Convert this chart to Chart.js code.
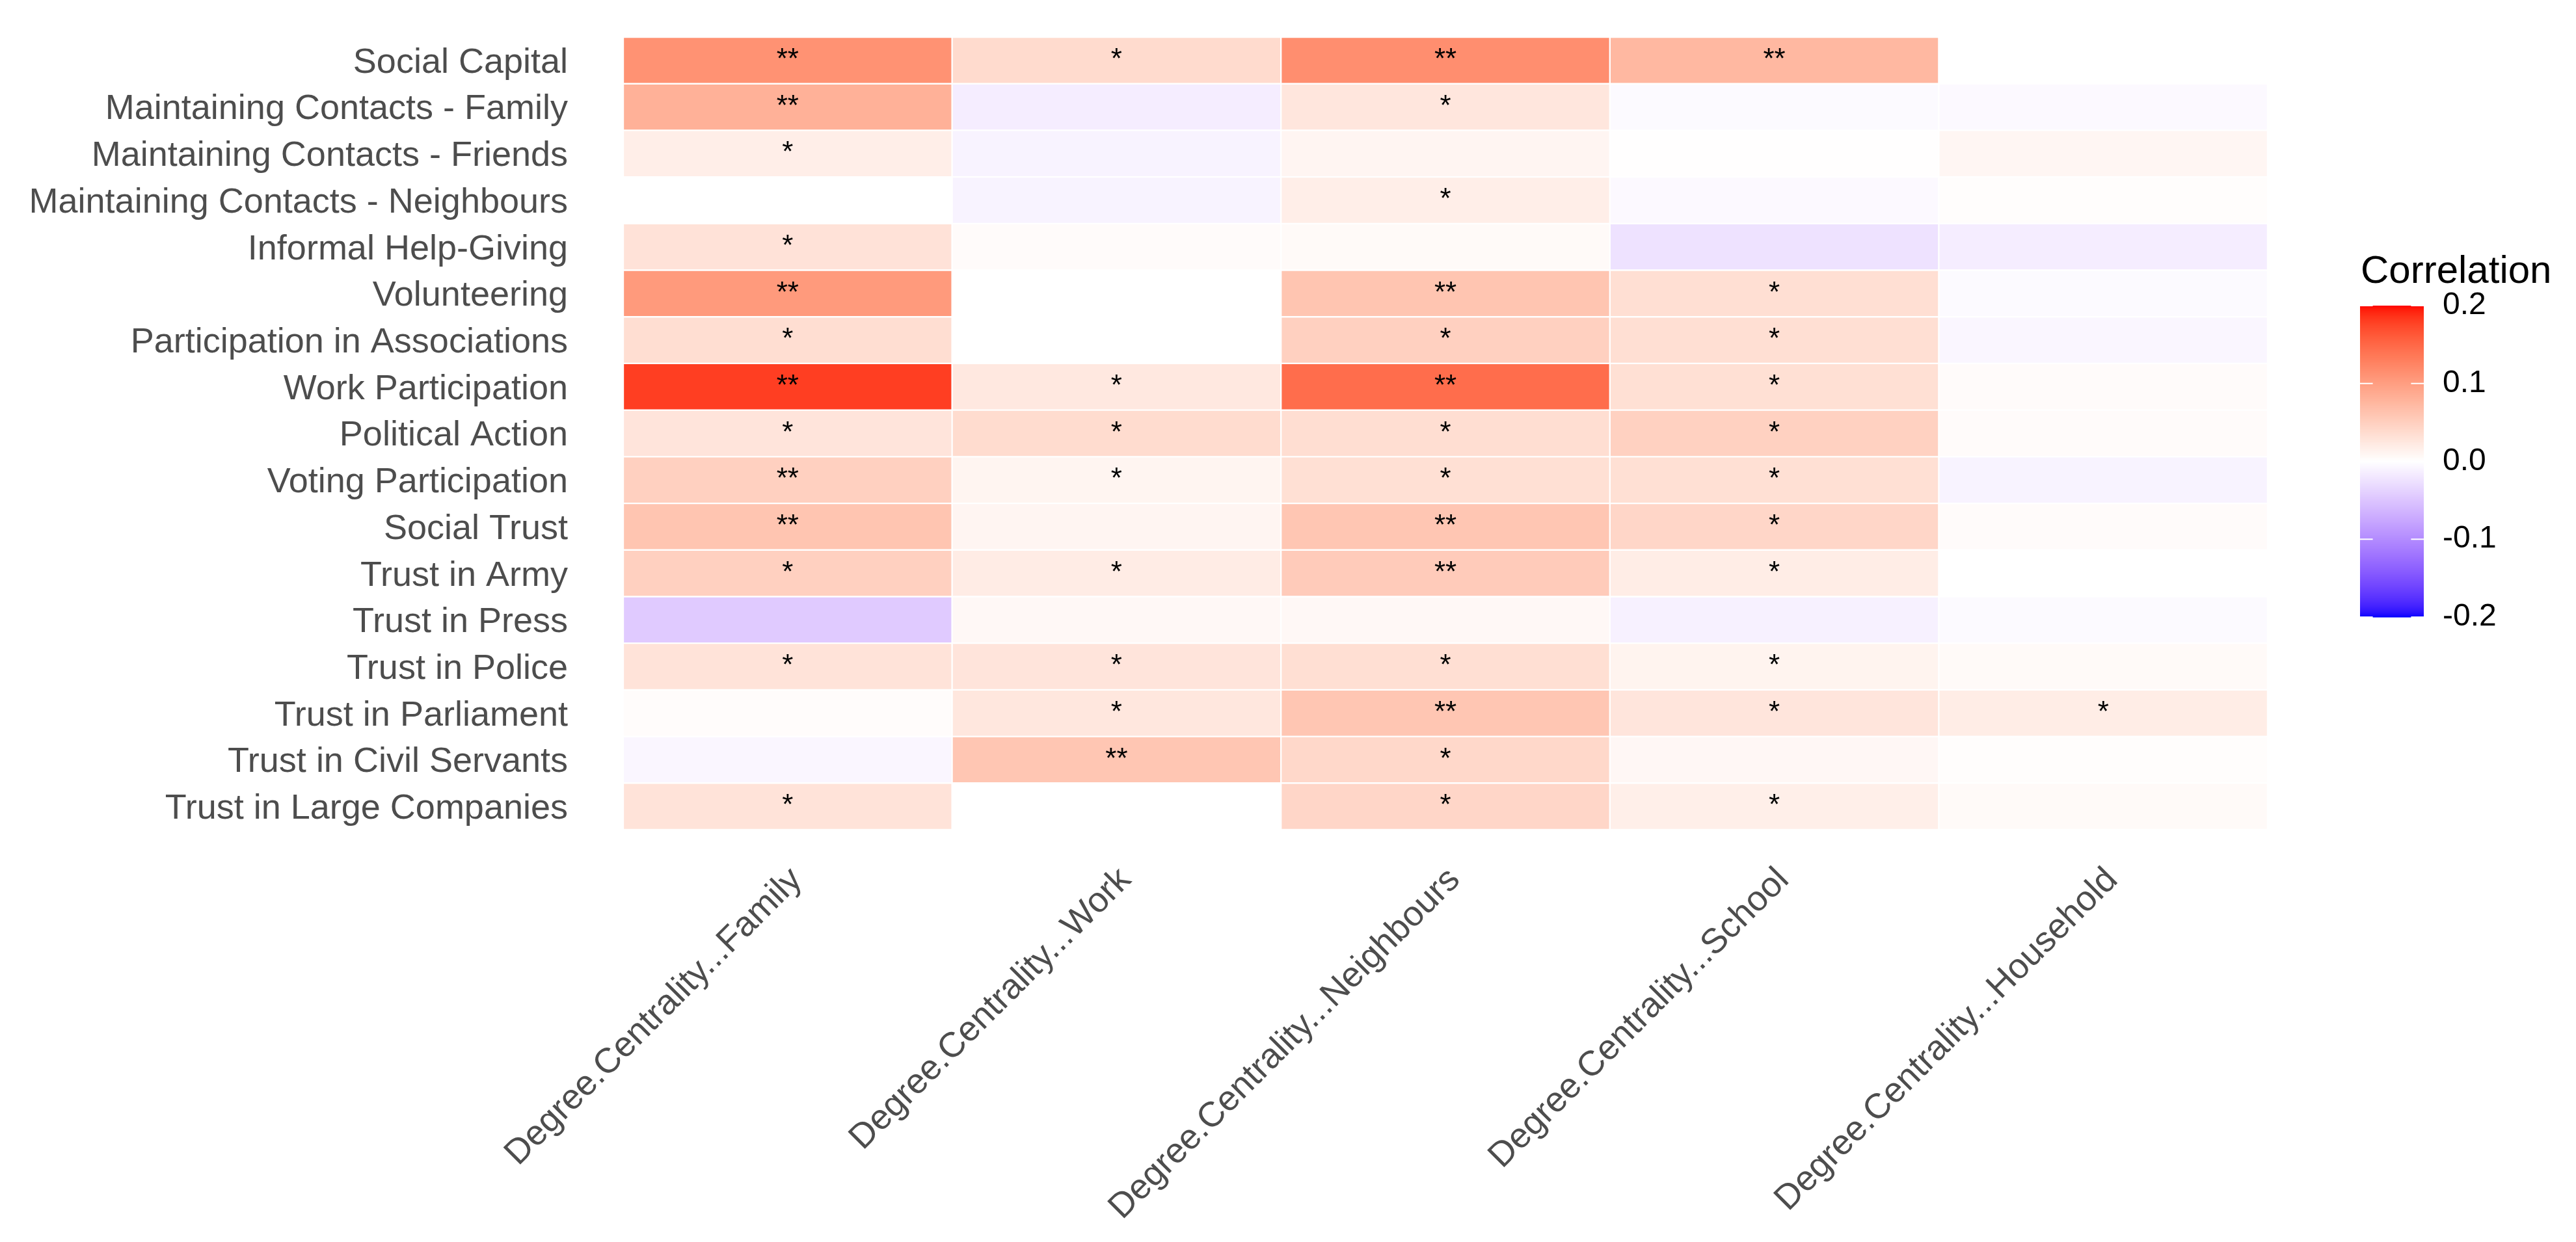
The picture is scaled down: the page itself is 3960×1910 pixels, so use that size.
<!DOCTYPE html>
<html lang="en">
<head>
  <meta charset="UTF-8">
  <title>Degree centrality vs social capital – correlation heatmap</title>
  <script src="https://cdn.jsdelivr.net/npm/chart.js@4.4.1/dist/chart.umd.min.js"></script>
  <style>
    body { margin: 0; background: #fff; }
    #wrap { width: 3960px; height: 1910px; }
  </style>
</head>
<body>
  <div id="wrap"><canvas id="heat" width="3960" height="1910"></canvas></div>

  <script>
    const rowLabels = [
      "Social Capital", "Maintaining Contacts - Family", "Maintaining Contacts - Friends",
      "Maintaining Contacts - Neighbours", "Informal Help-Giving", "Volunteering",
      "Participation in Associations", "Work Participation", "Political Action",
      "Voting Participation", "Social Trust", "Trust in Army", "Trust in Press",
      "Trust in Police", "Trust in Parliament", "Trust in Civil Servants", "Trust in Large Companies"
    ];
    const colLabels = [
      "Degree.Centrality...Family", "Degree.Centrality...Work", "Degree.Centrality...Neighbours",
      "Degree.Centrality...School", "Degree.Centrality...Household"
    ];

    // correlations, one array per column, rows top to bottom
    const family     = [0.112, 0.081, 0.018, 0.000, 0.030, 0.104, 0.035, 0.180, 0.028, 0.049, 0.061, 0.049, -0.045, 0.029, 0.003, -0.008, 0.029];
    const work       = [0.038, -0.015, -0.010, -0.010, 0.004, 0.000, 0.000, 0.024, 0.037, 0.011, 0.010, 0.020, 0.007, 0.028, 0.025, 0.059, 0.000];
    const neighbours = [0.115, 0.026, 0.010, 0.018, 0.005, 0.061, 0.049, 0.145, 0.035, 0.033, 0.059, 0.054, 0.007, 0.034, 0.059, 0.041, 0.043];
    const school     = [0.074, -0.004, 0.001, -0.005, -0.025, 0.034, 0.034, 0.033, 0.048, 0.033, 0.043, 0.019, -0.012, 0.012, 0.027, 0.008, 0.017];
    const household  = [null, -0.005, 0.009, 0.002, -0.015, -0.004, -0.008, 0.004, 0.004, -0.010, 0.004, 0.000, -0.004, 0.005, 0.019, 0.002, 0.005];

    // significance marks
    const familyStars     = ["**", "**", "*", "", "*", "**", "*", "**", "*", "**", "**", "*", "", "*", "", "", "*"];
    const workStars       = ["*", "", "", "", "", "", "", "*", "*", "*", "", "*", "", "*", "*", "**", ""];
    const neighboursStars = ["**", "*", "", "*", "", "**", "*", "**", "*", "*", "**", "**", "", "*", "**", "*", "*"];
    const schoolStars     = ["**", "", "", "", "", "*", "*", "*", "*", "*", "*", "*", "", "*", "*", "", "*"];
    const householdStars  = ["", "", "", "", "", "", "", "", "", "", "", "", "", "", "*", "", ""];

    const legendTicks = [0.2, 0.1, 0.0, -0.1, -0.2];
    const limit = 0.2;

    const FONT = '"Liberation Sans", Arial, sans-serif';

    // blue - white - red gradient, interpolated in Lab like ggplot's gradient2
    function toLinear(c) { c /= 255; return c <= 0.04045 ? c / 12.92 : Math.pow((c + 0.055) / 1.055, 2.4); }
    function toSrgb(c) {
      c = c <= 0.0031308 ? 12.92 * c : 1.055 * Math.pow(c, 1 / 2.4) - 0.055;
      return Math.round(Math.min(1, Math.max(0, c)) * 255);
    }
    function rgbToLab(rgb) {
      const [r, g, b] = rgb.map(toLinear);
      const x = (0.4124564 * r + 0.3575761 * g + 0.1804375 * b) / 0.95047;
      const y = 0.2126729 * r + 0.7151522 * g + 0.0721750 * b;
      const z = (0.0193339 * r + 0.1191920 * g + 0.9503041 * b) / 1.08883;
      const f = t => t > 0.008856 ? Math.cbrt(t) : 7.787 * t + 16 / 116;
      return [116 * f(y) - 16, 500 * (f(x) - f(y)), 200 * (f(y) - f(z))];
    }
    function labToRgb(lab) {
      const fy = (lab[0] + 16) / 116, fx = fy + lab[1] / 500, fz = fy - lab[2] / 200;
      const inv = t => t * t * t > 0.008856 ? t * t * t : (t - 16 / 116) / 7.787;
      const x = inv(fx) * 0.95047, y = inv(fy), z = inv(fz) * 1.08883;
      const r = 3.2404542 * x - 1.5371385 * y - 0.4985314 * z;
      const g = -0.9692660 * x + 1.8760108 * y + 0.0415560 * z;
      const b = 0.0556434 * x - 0.2040259 * y + 1.0572252 * z;
      return `rgb(${toSrgb(r)},${toSrgb(g)},${toSrgb(b)})`;
    }
    const labLow = rgbToLab([0, 0, 255]);
    const labMid = rgbToLab([255, 255, 255]);
    const labHigh = rgbToLab([255, 0, 0]);
    function fillFor(v) {
      const t = Math.max(-1, Math.min(1, v / limit));
      const end = t >= 0 ? labHigh : labLow;
      const k = Math.abs(t);
      return labToRgb(labMid.map((m, i) => m + (end[i] - m) * k));
    }

    const columns = [family, work, neighbours, school, household];
    const marks = [familyStars, workStars, neighboursStars, schoolStars, householdStars];

    const datasets = columns.map((vals, j) => ({
      label: colLabels[j],
      data: vals.map(v => v === null ? null : [j, j + 1]),
      backgroundColor: vals.map(v => v === null ? 'rgba(0,0,0,0)' : fillFor(v)),
      borderColor: '#ffffff',
      borderWidth: 1.5,
      borderSkipped: false,
      barPercentage: 1,
      categoryPercentage: 1,
      grouped: false,
      stars: marks[j]
    }));

    // the * / ** marks in the middle of each tile
    const starPlugin = {
      id: 'stars',
      afterDatasetsDraw(chart) {
        const ctx = chart.ctx;
        ctx.save();
        ctx.font = `44px ${FONT}`;
        ctx.fillStyle = '#000';
        ctx.textAlign = 'center';
        ctx.textBaseline = 'middle';
        chart.data.datasets.forEach((ds, j) => {
          chart.getDatasetMeta(j).data.forEach((bar, i) => {
            const s = ds.stars[i];
            if (s && columns[j][i] !== null) ctx.fillText(s, (bar.x + bar.base) / 2, bar.y);
          });
        });
        ctx.restore();
      }
    };

    // colour bar legend on the right
    const colourBar = {
      id: 'colourBar',
      afterDraw(chart) {
        const ctx = chart.ctx;
        const x0 = 3628, w = 98, top = 470, h = 479;
        const yFor = v => top + (limit - v) / (2 * limit) * h;
        ctx.save();
        for (let py = 0; py < h; py++) {
          const v = limit - (py + 0.5) / h * 2 * limit;
          ctx.fillStyle = fillFor(v);
          ctx.fillRect(x0, top + py, w, 1.5);
        }
        ctx.strokeStyle = '#ffffff';
        ctx.lineWidth = 2;
        legendTicks.forEach(v => {
          const y = yFor(v);
          ctx.beginPath();
          ctx.moveTo(x0, y); ctx.lineTo(x0 + w / 5, y);
          ctx.moveTo(x0 + w - w / 5, y); ctx.lineTo(x0 + w, y);
          ctx.stroke();
        });
        ctx.fillStyle = '#000';
        ctx.font = `48px ${FONT}`;
        ctx.textAlign = 'left';
        ctx.textBaseline = 'middle';
        legendTicks.forEach(v => ctx.fillText(v.toFixed(1), 3755, yFor(v)));
        ctx.font = `60px ${FONT}`;
        ctx.textBaseline = 'alphabetic';
        ctx.fillText('Correlation', 3629, 435);
        ctx.restore();
      }
    };

    new Chart(document.getElementById('heat'), {
      type: 'bar',
      data: { labels: rowLabels, datasets: datasets },
      options: {
        indexAxis: 'y',
        responsive: false,
        animation: false,
        devicePixelRatio: 1,
        layout: { padding: { top: 57, right: 474, left: 0, bottom: 0 } },
        plugins: { legend: { display: false }, tooltip: { enabled: false } },
        scales: {
          x: {
            type: 'linear',
            min: 0,
            max: 5,
            grid: { display: false, drawTicks: false },
            border: { display: false },
            afterBuildTicks: s => { s.ticks = colLabels.map((_, i) => ({ value: i + 0.5 })); },
            afterFit: s => { s.height = 634; s.paddingLeft = 0; s.paddingRight = 0; },
            ticks: {
              autoSkip: false,
              minRotation: 45,
              maxRotation: 45,
              padding: 46,
              labelOffset: 14,
              color: '#4D4D4D',
              font: { family: FONT, size: 54 },
              callback: (v, i) => colLabels[i]
            }
          },
          y: {
            grid: { display: false, drawTicks: false },
            border: { display: false },
            afterFit: s => { s.width = 958; s.paddingTop = 0; s.paddingBottom = 0; },
            ticks: {
              padding: 85,
              labelOffset: 4,
              color: '#4D4D4D',
              font: { family: FONT, size: 54 }
            }
          }
        }
      },
      plugins: [starPlugin, colourBar]
    });
  </script>
</body>
</html>
